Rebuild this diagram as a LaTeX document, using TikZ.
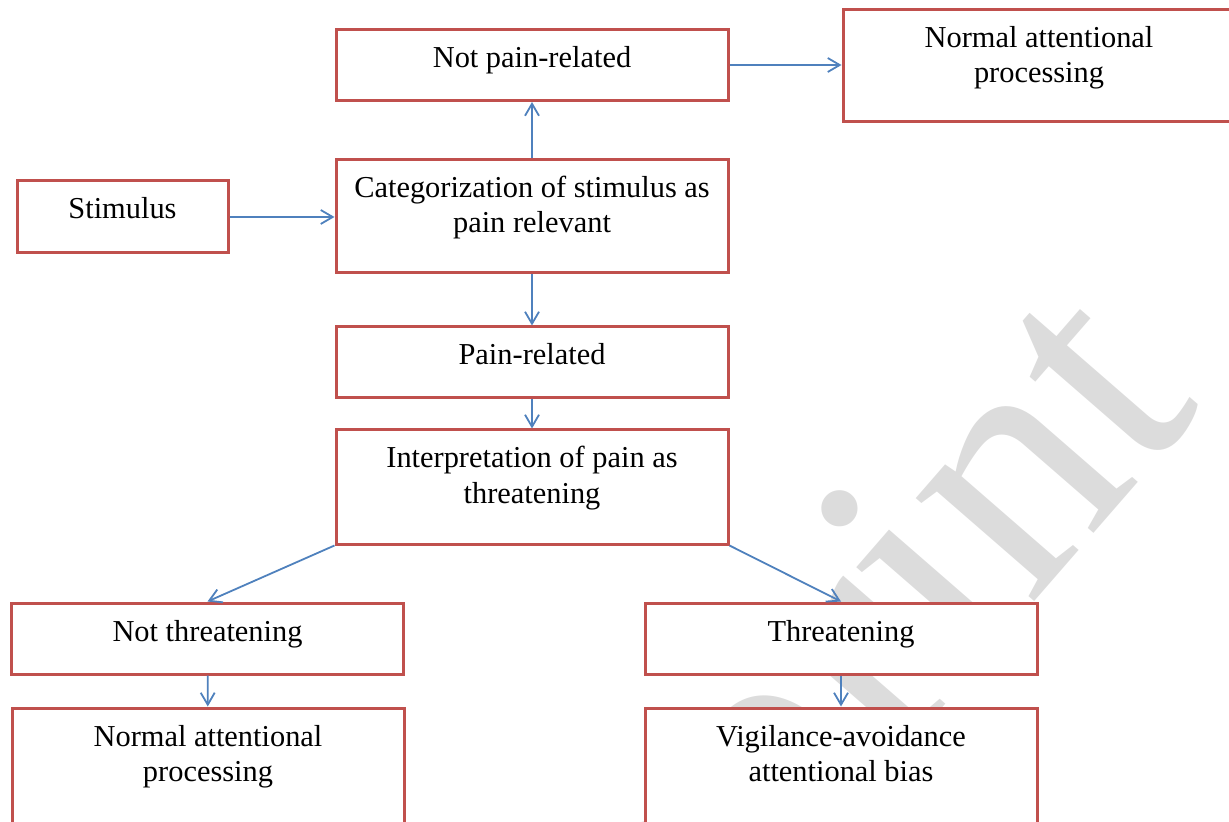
\documentclass[tikz,border=0pt]{standalone}
\usepackage{fontspec}
\setmainfont{Liberation Serif}
\usetikzlibrary{arrows.meta}
\definecolor{cRed}{HTML}{C0504D}
\definecolor{cBlue}{HTML}{4F81BD}
\definecolor{cMark}{HTML}{DCDCDC}
\tikzset{>={Straight Barb[length=6pt,width=7pt]}}

\begin{document}
\begin{tikzpicture}[x=0.5pt, y=-0.5pt,
		box/.style={draw=cRed, line width=1.5pt, fill=white, align=flush center, text width=196pt, inner xsep=0pt, inner ysep=8.8pt, text height=10.2pt, font=\fontsize{15.2}{17.5}\selectfont},
		onebox/.style={box, text depth=7.7pt},
		twobox/.style={box, text depth=28.7pt},
		link/.style={->, draw=cBlue, line width=0.9pt}]
		\useasboundingbox (0,0) rectangle (1229,822);
		\clip (0,0) rectangle (1229,822);
		%watermark
		\node [anchor=base west, rotate=49, inner sep=0pt, text=cMark, font=\fontsize{171}{171}\selectfont] (mark) at (481,1239) {Preprint};
		
		%top row
		\node [onebox] (npr) at (532,65) {Not pain-related};
		\node [twobox, text depth=28.2pt] (norm1) at (1039,66) {Normal attentional\\processing};
		%middle column
		\node [onebox, text width=105.5pt, text depth=8.2pt] (stim) at (122.5,217) {Stimulus};
		\node [twobox] (cat) at (532,216.5) {Categorization of stimulus as\\pain relevant};
		\node [onebox] (pr) at (532,362.5) {Pain-related};
		\node [twobox, text depth=29.2pt] (interp) at (532,487) {Interpretation of pain as\\threatening};
		%bottom rows
		\node [onebox] (nthr) at (207.5,638.5) {Not threatening};
		\node [onebox] (thr) at (841,638.5) {Threatening};
		\node [twobox, text depth=30.2pt] (norm2) at (208,766) {Normal attentional\\processing};
		\node [twobox, text depth=30.2pt] (vig) at (841,766) {Vigilance-avoidance\\attentional bias};
		
		%arrows
		\draw [link] (stim.east) -- (stim.east -| cat.west);
		\draw [link] (cat) -- (npr);
		\draw [link] (npr.east) -- (npr.east -| norm1.west);
		\draw [link] (cat) -- (pr);
		\draw [link] (pr) -- (interp);
		\draw [link] (interp.south west) -- (nthr.north);
		\draw [link] (interp.south east) -- (thr.north);
		\draw [link] (nthr) -- (norm2);
		\draw [link] (thr) -- (vig);
		
\end{tikzpicture}
\end{document}
